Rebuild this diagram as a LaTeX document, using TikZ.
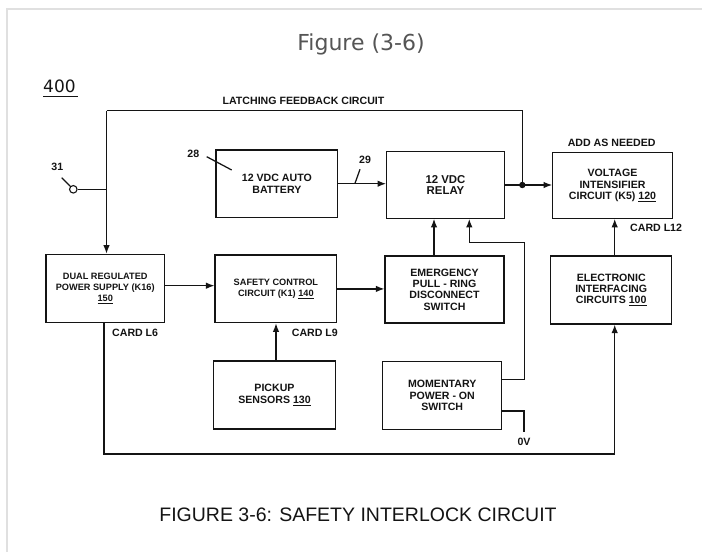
\documentclass[tikz,border=0pt]{standalone}
\usepackage{fontspec}
\setmainfont{Liberation Sans}
\newfontfamily\djv{DejaVu Sans}
\usetikzlibrary{arrows.meta}
\definecolor{framegray}{RGB}{224,224,224}
\definecolor{titlegray}{RGB}{85,85,85}
\definecolor{ink}{RGB}{20,20,20}
\tikzset{
  blk/.style={draw=ink, text=ink, line width=1.25pt, inner sep=0pt, align=center,
    font=\fontsize{10.6}{11.3}\selectfont\bfseries},
  blksmall/.style={blk, font=\fontsize{9.2}{10.8}\selectfont\bfseries},
  blkbig/.style={blk, font=\fontsize{11.4}{11.8}\selectfont\bfseries},
  wire/.style={draw=ink, line width=1.25pt},
  arr/.style={wire, -{Latex[length=8.5pt,width=6.5pt]}},
  lbl/.style={text=ink, inner sep=0pt, font=\fontsize{10.6}{11.3}\selectfont\bfseries},
}
\begin{document}
\begin{tikzpicture}[x=1pt,y=-1pt]
\useasboundingbox (0,0) rectangle (702,552);
\fill[white] (0,0) rectangle (702,552);
\draw[line width=2pt, framegray] (6.5,552) -- (6.5,9) -- (702,9);

% titles
\node[font=\djv\fontsize{22}{26}\selectfont, text=titlegray, anchor=base, inner sep=0pt] (title) at (361,50.7) {Figure (3-6)};
\node[font=\djv\fontsize{17}{20}\selectfont, text=ink, anchor=base west, inner sep=0pt] (n400) at (43,92) {400};
\draw[ink, line width=1.5pt] (n400.base west) ++(0,4.5) coordinate (u1) -- ++(35,0) coordinate (u2);
\node[font=\fontsize{19.5}{22}\selectfont, text=ink, anchor=base, inner sep=0pt] (caption) at (358,521) {FIGURE 3-6: SAFETY INTERLOCK CIRCUIT};

% boxes
\node[blk, minimum width=121.7pt, minimum height=67.3pt] (battery) at (276.9,183.7) {12 VDC AUTO\\BATTERY};
\node[blkbig, minimum width=117.6pt, minimum height=66.6pt] (relay) at (445.5,185) {12 VDC\\RELAY};
\node[blk, minimum width=119.6pt, minimum height=65.6pt] (voltage) at (612.5,185.5) {VOLTAGE\\INTENSIFIER\\CIRCUIT (K5) \underline{120}};
\node[blksmall, minimum width=118.3pt, minimum height=68.4pt] (dual) at (105.2,288.5) {DUAL REGULATED\\POWER SUPPLY (K16)\\\underline{150}};
\node[blksmall, minimum width=121.7pt, minimum height=67.7pt] (safety) at (275.9,288.9) {SAFETY CONTROL\\CIRCUIT (K1) \underline{140}};
\node[blk, minimum width=119pt, minimum height=67pt] (emergency) at (444.5,289.5) {EMERGENCY\\PULL - RING\\DISCONNECT\\SWITCH};
\node[blk, minimum width=121pt, minimum height=68pt] (electronic) at (611.2,290) {ELECTRONIC\\INTERFACING\\CIRCUITS \underline{100}};
\node[blk, minimum width=122.4pt, minimum height=68pt] (pickup) at (274.5,395) {PICKUP\\SENSORS \underline{130}};
\node[blk, minimum width=119pt, minimum height=67.6pt] (momentary) at (442.2,395.5) {MOMENTARY\\POWER - ON\\SWITCH};

% labels
\node[lbl] (latch) at (303.5,100.7) {LATCHING FEEDBACK CIRCUIT};
\node[lbl] (addas) at (611.7,143.3) {ADD AS NEEDED};
\node[lbl, anchor=west] (cardL12) at (630,228.3) {CARD L12};
\node[lbl, anchor=west] (cardL6) at (112,333.3) {CARD L6};
\node[lbl, anchor=west] (cardL9) at (291.7,333) {CARD L9};
\node[lbl] (zerov) at (524,441.7) {0V};
\node[lbl] (l31) at (57.3,167.3) {31};
\node[lbl] (l28) at (193.3,154) {28};
\node[lbl] (l29) at (365,160) {29};

% terminal 31
\node[circle, draw=ink, line width=1.1pt, minimum size=7.5pt, inner sep=0pt] (t31) at (73.3,189.3) {};
\coordinate (t31lead) at (61.7,177.7);
\draw[wire] (t31.135) -- (t31lead);

% leaders 28 and 29
\coordinate (a28) at (206.7,156.7);
\coordinate (b28) at (231.7,170);
\draw[wire] (a28) -- (b28);
\coordinate (a29) at (360,169.3);
\coordinate (b29) at (355,183.3);
\draw[wire] (a29) -- (b29);

% feedback loop
\coordinate (junc) at (522.3,185);
\coordinate (fbR) at (522.3,110.5);
\coordinate (fbL) at (106.5,110.5);
\draw[arr] (battery.east) -- (battery.east -| relay.west);
\draw[arr] (relay.east) -- (relay.east -| voltage.west);
\draw[wire] (junc) -- (fbR) -- (fbL);
\draw[arr] (fbL) -- (fbL |- dual.north);
\fill[ink] (junc) circle (3.2pt);
\draw[wire] (t31.east) -- (t31.east -| fbL);

% middle row
\draw[arr] ([yshift=2.8pt]dual.east) -- ([yshift=2.8pt]dual.east -| safety.west);
\draw[arr] (safety.east) -- (safety.east -| emergency.west);
\draw[arr] ([xshift=-10.5pt]emergency.north) -- ([xshift=-10.5pt]emergency.north |- relay.south);
\draw[arr] ([xshift=1.5pt]pickup.north) -- ([xshift=1.5pt]pickup.north |- safety.south);
\draw[arr] ([xshift=3.5pt]electronic.north) -- ([xshift=3.5pt]electronic.north |- voltage.south);

% momentary switch
\coordinate (m1) at (524.3,379.3);
\coordinate (m2) at (524.3,242.7);
\coordinate (m3) at (469.3,242.7);
\draw[arr] (m1 -| momentary.east) -- (m1) -- (m2) -- (m3) -- (m3 |- relay.south);
\coordinate (z1) at (524,411);
\coordinate (z2) at (524,431.7);
\draw[wire] (z1 -| momentary.east) -- (z1) -- (z2);

% bottom loop
\coordinate (b1) at (104,454);
\coordinate (b2) at (614.7,454);
\draw[arr] (dual.south -| b1) -- (b1) -- (b2) -- (b2 |- electronic.south);
\end{tikzpicture}
\end{document}
